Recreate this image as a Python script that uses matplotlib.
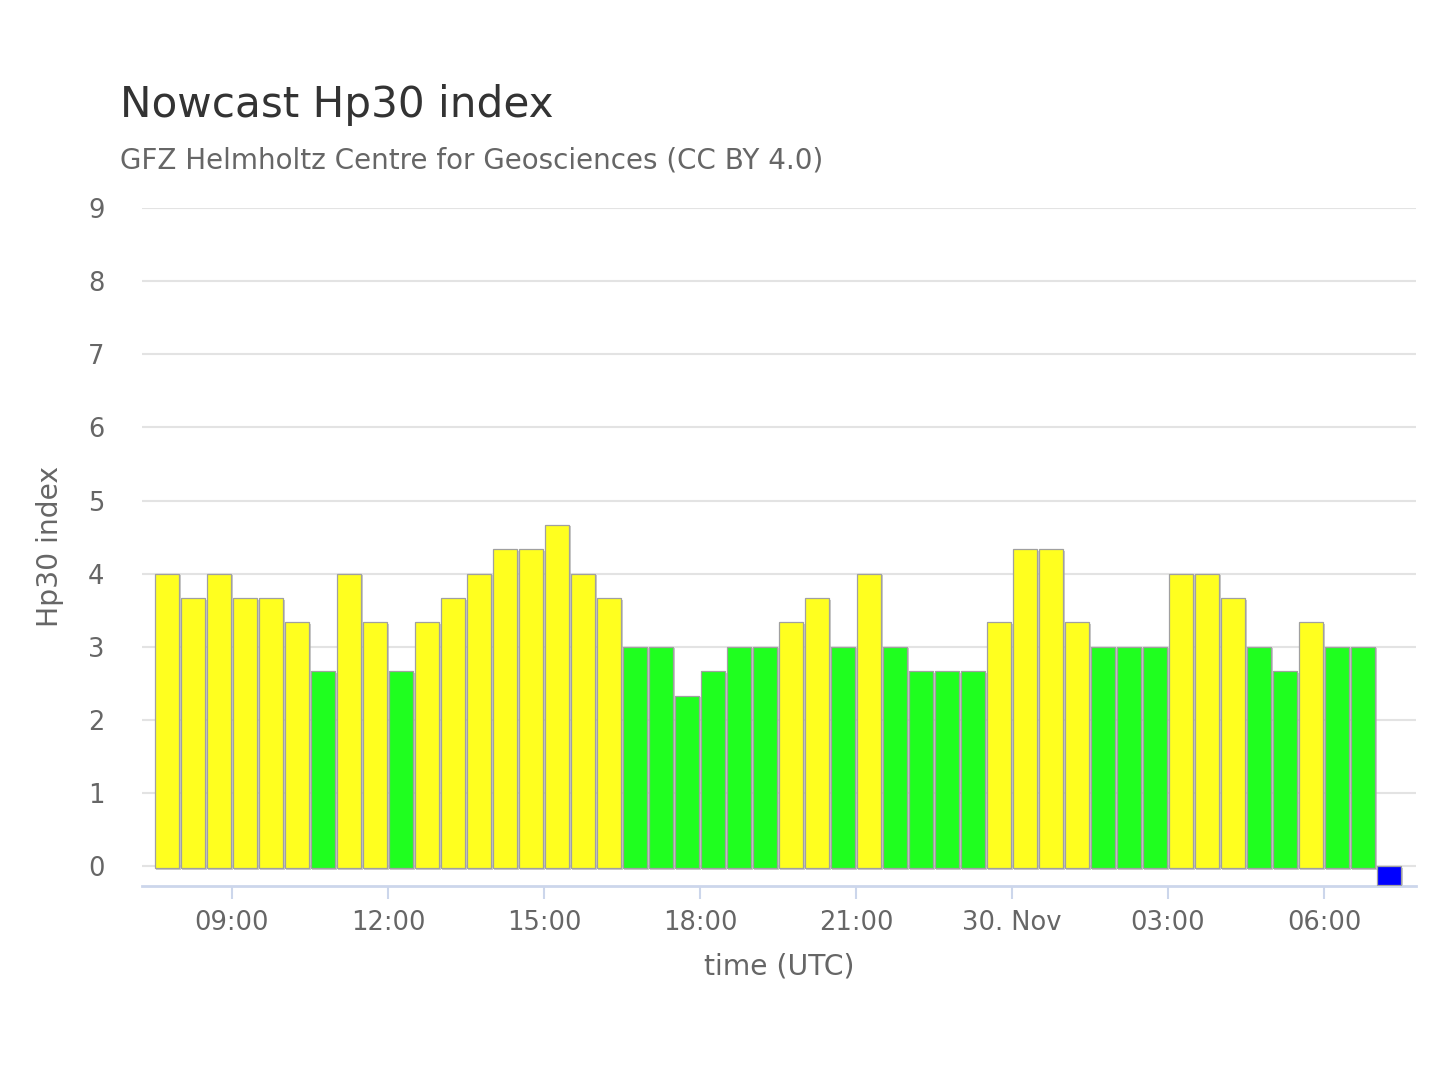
import matplotlib
matplotlib.use("Agg")
import matplotlib.pyplot as plt

# ---- data ----
# bar start times in hours since 29 Nov 00:00 (30-min cadence)
start_hours = [7.5 + 0.5 * i for i in range(48)]
hp30_values = [4.000, 3.667, 4.000, 3.667, 3.667, 3.333, 2.667, 4.000, 3.333, 2.667,
               3.333, 3.667, 4.000, 4.333, 4.333, 4.667, 4.000, 3.667, 3.000, 3.000,
               2.333, 2.667, 3.000, 3.000, 3.333, 3.667, 3.000, 4.000, 3.000, 2.667,
               2.667, 2.667, 3.333, 4.333, 4.333, 3.333, 3.000, 3.000, 3.000, 4.000,
               4.000, 3.667, 3.000, 2.667, 3.333, 3.000, 3.000, -0.25]
bar_colors = ["#ffff1f" if v > 3.1 else "#1fff1f" for v in hp30_values[:-1]] + ["#0000ff"]
xtick_pos = [9, 12, 15, 18, 21, 24, 27, 30]
xtick_labels = ["09:00", "12:00", "15:00", "18:00", "21:00", "30. Nov", "03:00", "06:00"]
ytick_pos = list(range(0, 10))

plt.rcParams['font.family'] = ['DejaVu Sans']
fig = plt.figure(figsize=(14.4, 10.8), dpi=100)
ax = fig.add_axes([142 / 1440, 1 - 886 / 1080, (1416 - 142) / 1440, (886 - 208) / 1080])

ymin = -0.27
width = 0.465
centers = [s + 0.25 for s in start_hours]
dx = 1.5 / 52.0
dy = 1.5 / 73.1
base = -0.03
# shadow
for c, v in zip(centers, hp30_values):
    if v > 0:
        ax.bar(c + dx, v - base, width=width, bottom=base - dy, color="#a8a8a8",
               alpha=0.6, linewidth=0, zorder=2)
    else:
        ax.bar(c + dx, v, width=width, bottom=-dy, color="#a8a8a8",
               alpha=0.6, linewidth=0, zorder=2)
ax.bar(centers, [v - base if v > 0 else v for v in hp30_values], width=width,
       bottom=[base if v > 0 else 0 for v in hp30_values],
       color=bar_colors, edgecolor="#a0a0a0", linewidth=0.9, zorder=3)

ax.set_xlim(7.27, 31.77)
ax.set_ylim(ymin, 9)
ax.set_yticks(ytick_pos)
ax.set_xticks(xtick_pos)
ax.set_xticklabels(xtick_labels)
ax.grid(axis="y", color="#e3e3e3", linewidth=1.5, zorder=0)
ax.set_axisbelow(True)
for sp in ["top", "right", "left"]:
    ax.spines[sp].set_visible(False)
ax.spines["bottom"].set_color("#ccd6eb")
ax.spines["bottom"].set_linewidth(2)
ax.tick_params(axis="y", length=0, pad=27, labelsize=18.5, labelcolor="#666666")
ax.tick_params(axis="x", length=9, width=1.5, color="#ccd6eb", pad=8,
               labelsize=18.5, labelcolor="#666666")

ax.set_xlabel("time (UTC)", fontsize=20.3, color="#666666", va="center")
ax.xaxis.set_label_coords(0.5, (886 - 967) / 678)
ax.set_ylabel("Hp30 index", fontsize=20.3, color="#666666", va="center")
ax.yaxis.set_label_coords((50 - 142) / 1274, (886 - 546) / 678)

fig.text(120 / 1440, 1 - 117 / 1080, "Nowcast Hp30 index", fontsize=30.3,
         color="#333333", va="baseline", ha="left")
fig.text(120 / 1440, 1 - 169 / 1080, "GFZ Helmholtz Centre for Geosciences (CC BY 4.0)",
         fontsize=20, color="#666666", va="baseline", ha="left")

fig.savefig("out.png", dpi=100, facecolor="white")
